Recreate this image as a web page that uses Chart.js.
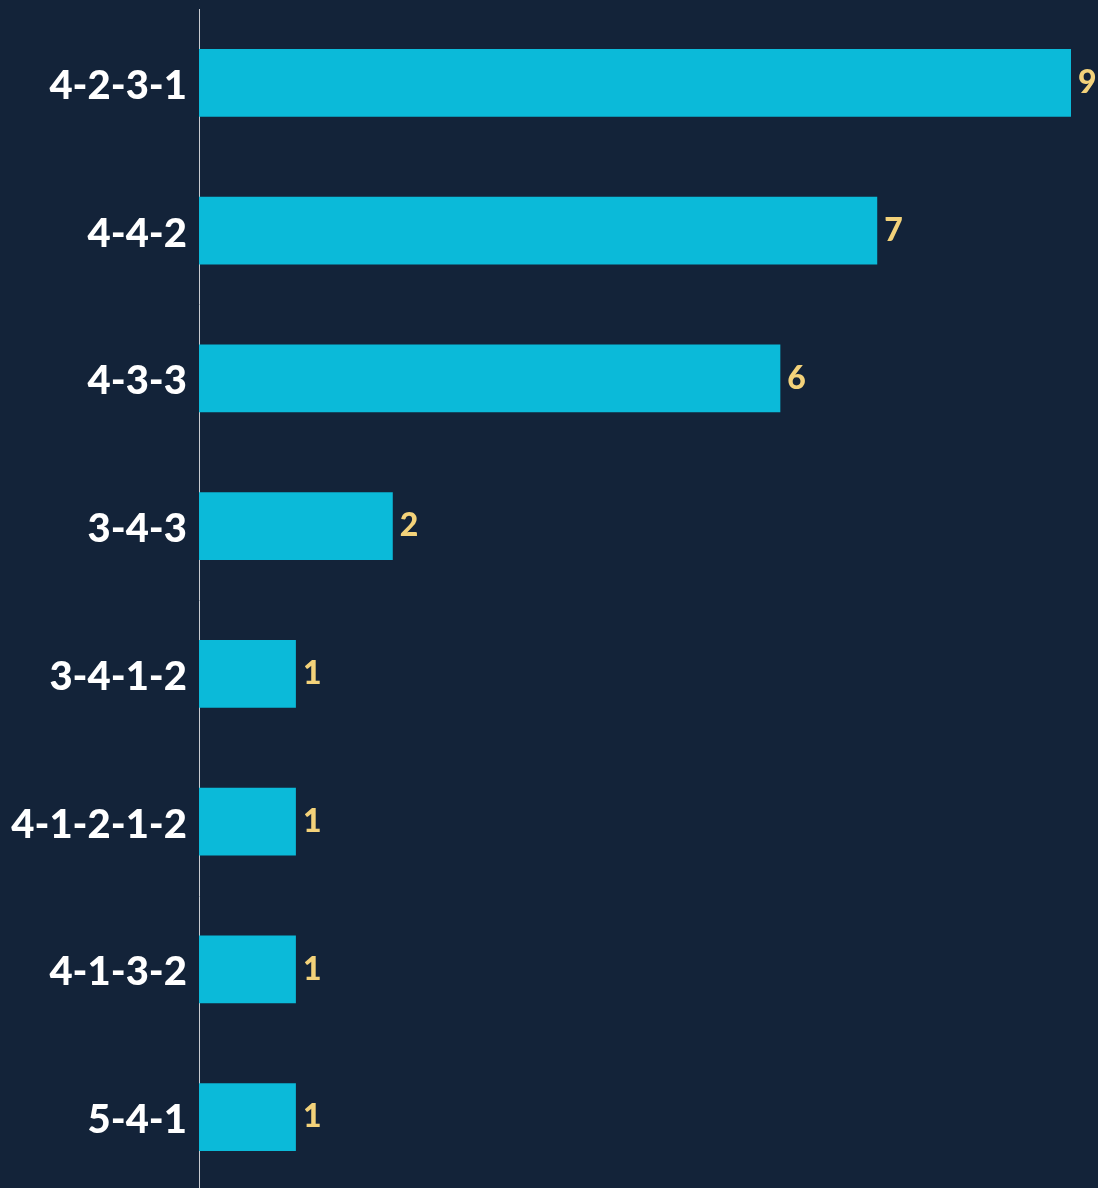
<!DOCTYPE html>
<html>
<head>
<meta charset="utf-8">
<script src="https://cdn.jsdelivr.net/npm/chart.js@4.4.1/dist/chart.umd.min.js"></script>
<style>
html, body { margin: 0; padding: 0; background: #132339; overflow: hidden; }
.wrap { position: relative; width: 1098px; height: 1191px; }
</style>
</head>
<body>
<div class="wrap"><canvas id="formations"></canvas></div>
<script>
const formations = ['4-2-3-1','4-4-2','4-3-3','3-4-3','3-4-1-2','4-1-2-1-2','4-1-3-2','5-4-1'];
const matches = [9, 7, 6, 2, 1, 1, 1, 1];

// draw the count right after every bar
const valueLabels = {
    id: 'valueLabels',
    afterDatasetsDraw(chart){
        const ctx = chart.ctx;
        const meta = chart.getDatasetMeta(0);
        ctx.save();
        ctx.fillStyle = '#f3d27a';
        ctx.font = '900 32px Lato';
        ctx.textBaseline = 'middle';
        meta.data.forEach((bar, i) => {
            ctx.fillText(matches[i], bar.x + 7, bar.y);
        });
        ctx.restore();
    }
};

const ctx = document.getElementById('formations').getContext('2d');
const chart = new Chart(ctx, {
    type: 'bar',
    data: {
        labels: formations,
        datasets: [{
            data: matches,
            backgroundColor: '#0bbad9',
            borderWidth: 0,
            barPercentage: 0.46,
            categoryPercentage: 1,
        }]
    },
    options: {
        indexAxis: 'y',
        responsive: true,
        maintainAspectRatio: false,
        animation: false,
        layout: { padding: { top: 9, right: 27, bottom: 0, left: 0 } },
        plugins: {
            legend: { display: false },
            tooltip: { enabled: false }
        },
        scales: {
            x: {
                display: false,
                min: 0,
                max: 9,
                grid: { display: false }
            },
            y: {
                grid: { display: false, drawTicks: false },
                border: { display: true, color: '#c9ccd1', width: 1 },
                ticks: {
                    color: '#ffffff',
                    padding: 12,
                    labelOffset: 3,
                    font: { family: 'Lato', weight: '900', size: 40 }
                },
                afterFit(scale){
                    scale.width = 199;
                    scale.paddingTop = 0;
                    scale.paddingBottom = 0;
                }
            }
        }
    },
    plugins: [valueLabels]
});
</script>
</body>
</html>
